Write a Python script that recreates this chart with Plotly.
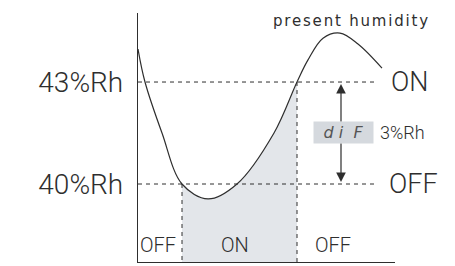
import plotly.graph_objects as go

# ---- data ----
time = [0, 7, 24, 44, 70, 99, 136, 159, 170, 185, 202, 220, 244]
humidity = [43.97, 43.0, 41.5, 40.0, 39.56, 40.0, 41.5, 43.0, 43.65, 44.29, 44.44, 44.12, 43.41]
on_level = 43
off_level = 40
diff_text = "3%Rh"
level_labels = ["40%Rh", "43%Rh"]
state_labels = ["OFF", "ON", "OFF"]

# ---- layout constants ----
y_low, y_high = 37.706, 45.03
x_low, x_high = 0, 257
t_on, t_off = 44, 159          # times where curve crosses thresholds
dash_end = 240
arrow_t = 203
box_t = 205.5
box_bottom, box_top = 41.24, 41.79

INK = "#2e2e2e"
FONT = "Roboto, Liberation Sans, sans-serif"

fig = go.Figure()

# shaded ON region
i0 = time.index(t_on)
i1 = time.index(t_off)
fig.add_trace(go.Scatter(
    x=time[i0:i1 + 1], y=humidity[i0:i1 + 1], mode="lines",
    line=dict(width=0, shape="spline"), fill="tozeroy",
    fillcolor="#e3e6ea", hoverinfo="skip", showlegend=False))

# humidity curve
fig.add_trace(go.Scatter(
    x=time, y=humidity, mode="lines",
    line=dict(color=INK, width=1.2, shape="spline"),
    hoverinfo="skip", showlegend=False))

dash = dict(color=INK, width=1, dash="4px,4px")
fig.add_shape(type="line", x0=0, x1=dash_end, y0=on_level, y1=on_level, xref="x", yref="y", line=dash)
fig.add_shape(type="line", x0=0, x1=dash_end, y0=off_level, y1=off_level, xref="x", yref="y", line=dash)
fig.add_shape(type="line", x0=t_on, x1=t_on, y0=off_level, y1=y_low, xref="x", yref="y", line=dash)
fig.add_shape(type="line", x0=t_off, x1=t_off, y0=on_level, y1=y_low, xref="x", yref="y", line=dash)

# arrows
for tip, tail in [(on_level, box_top), (off_level, box_bottom)]:
    fig.add_annotation(x=arrow_t, y=tip, ax=arrow_t, ay=tail, xref="x", yref="y",
                       axref="x", ayref="y", text="", showarrow=True,
                       arrowhead=2, arrowsize=1.6, arrowwidth=1.2,
                       arrowcolor=INK, standoff=2)

# dif box
fig.add_annotation(x=box_t, y=(box_top + box_bottom) / 2, xref="x", yref="y",
                   text="<i>d i  F</i>", showarrow=False, bgcolor="#d5d9de",
                   width=57, height=19, font=dict(family="DejaVu Sans", size=16, color="#555"))
fig.add_annotation(x=240, y=(box_top + box_bottom) / 2, xref="x", yref="y",
                   text=diff_text, showarrow=False, xanchor="left",
                   font=dict(family=FONT, size=18, color=INK, weight=300))

# right labels
fig.add_annotation(x=251, y=on_level, xref="x", yref="y", text="ON", showarrow=False,
                   xanchor="left", font=dict(family=FONT, size=27, color=INK, weight=300))
fig.add_annotation(x=249, y=off_level, xref="x", yref="y", text="OFF", showarrow=False,
                   xanchor="left", font=dict(family=FONT, size=27, color=INK, weight=300))

# bottom state labels
for t, lab in zip([20, 97, 195], state_labels):
    fig.add_annotation(x=t, y=38.21, xref="x", yref="y", text=lab, showarrow=False,
                       font=dict(family=FONT, size=20, color=INK, weight=300))

fig.add_annotation(x=213, y=44.79, xref="x", yref="y",
                   text='<span style="letter-spacing:1.8px">present humidity</span>',
                   showarrow=False, font=dict(family="DejaVu Sans", size=15, color=INK))

fig.update_xaxes(range=[x_low, x_high], showline=True, linecolor=INK, linewidth=1,
                 showgrid=False, zeroline=False, showticklabels=False, ticks="")
fig.update_yaxes(range=[y_low, y_high], showline=True, linecolor=INK, linewidth=1.3,
                 showgrid=False, zeroline=False, tickvals=[off_level, on_level],
                 ticktext=level_labels, ticks="", ticklabelstandoff=8,
                 tickfont=dict(family=FONT, size=28, color=INK, weight=300))

fig.update_layout(width=455, height=266, margin=dict(l=138, r=60, t=13, b=4),
                  paper_bgcolor="white", plot_bgcolor="white", showlegend=False)

fig.write_html("out.html", config={"displayModeBar": False},
               post_script="document.body.style.margin='0';")
